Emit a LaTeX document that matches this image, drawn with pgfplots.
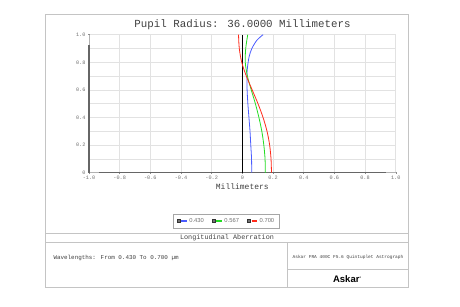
\documentclass[border=0pt]{standalone}
\usepackage{pgfplots}
\pgfplotsset{compat=1.18}
\usepackage{fontspec}
\setmainfont{Liberation Mono}
\newfontfamily\arialfont{Liberation Sans}
\definecolor{framegray}{HTML}{C4C4C4}
\definecolor{gridgray}{HTML}{E2E2E2}
\definecolor{labgray}{HTML}{707070}
\definecolor{zblue}{HTML}{4A5CFF}
\definecolor{zgreen}{HTML}{22DD22}
\definecolor{zred}{HTML}{FF2A1A}
\begin{document}
\begin{tikzpicture}[x=1pt,y=1pt]
\path[use as bounding box,fill=white] (0,0) rectangle (460,307);
% frame
\draw[framegray,line width=0.9pt] (45,19.3) rectangle (408,292.3);
\draw[framegray,line width=0.9pt] (45,73.3) -- (408,73.3);
\draw[framegray,line width=0.9pt] (45,64.7) -- (408,64.7);
\draw[framegray,line width=0.9pt] (287,19.3) -- (287,64.7);
\draw[framegray,line width=0.9pt] (287,37.3) -- (408,37.3);
% texts
\node[text=black!75,font=\fontsize{10.8}{12}\selectfont] at (242.5,282.7) {Pupil Radius: 36.0000 Millimeters};
\node[text=black!75,font=\fontsize{6.8}{8}\selectfont] at (227,69) {Longitudinal Aberration};
\node[anchor=west,text=black!75,font=\fontsize{5.9}{7}\selectfont] at (50,48.7) {Wavelengths: From 0.430 To 0.700 µm};
\node[text=black!75,font=\fontsize{4.5}{5}\selectfont] at (348,50) {Askar FRA 400C F5.6 Quintuplet Astrograph};
\node[text=black,font=\arialfont\bfseries\fontsize{9.5}{11}\selectfont] at (347,27.7) {Askar\raisebox{2.5pt}{\fontsize{5}{5}\selectfont ʼ}};
\begin{axis}[
  at={(89pt,134.3pt)}, anchor=south west,
  scale only axis, width=306.7pt, height=138pt,
  xmin=-1, xmax=1, ymin=0, ymax=1,
  axis lines=left, axis line style={black!30,line width=0.6pt,-},
  xtick={-1,-0.8,-0.6,-0.4,-0.2,0,0.2,0.4,0.6,0.8,1},
  xticklabels={-1.0,-0.8,-0.6,-0.4,-0.2,0,0.2,0.4,0.6,0.8,1.0},
  ytick={0,0.2,0.4,0.6,0.8,1},
  yticklabels={0,0.2,0.4,0.6,0.8,1.0},
  minor ytick={0.1,0.3,0.5,0.7,0.9},
  grid=both, major grid style={gridgray,line width=0.5pt}, minor grid style={gridgray,line width=0.5pt},
  tick style={black!45,line width=0.4pt}, major tick length=2pt, minor tick length=1.5pt,
  tick label style={text=labgray,font=\fontsize{5.2}{6}\selectfont},
  xticklabel style={yshift=1pt},
  yticklabel style={xshift=1pt},
  xlabel={Millimeters}, xlabel style={text=black!75,font=\fontsize{8}{9}\selectfont, yshift=3pt},
  legend columns=3,
  legend style={at={(axis description cs:0.448,-0.35)},anchor=center,draw=black!35,line width=0.5pt,
     font=\arialfont\fontsize{5.8}{6.5}\selectfont,text=labgray,inner xsep=3pt,inner ysep=2pt,
     /tikz/every even column/.append style={column sep=6pt}},
  legend image code/.code={
     \draw[fill=black!55,draw=black!80,line width=0.3pt] (0pt,-1.6pt) rectangle (3.2pt,1.6pt);
     \draw[#1,line width=1.1pt] (4.4pt,0pt) -- (10pt,0pt);},
  clip=false,
]
\draw[black!60,line width=1.3pt] (axis cs:-1,0) -- (axis cs:-1,0.925);
\draw[black!60,line width=1.3pt] (axis cs:-0.935,0) -- (axis cs:0.935,0);
\draw[black,line width=0.6pt] (axis cs:0,0) -- (axis cs:0,1);
\addplot[zblue,line width=0.8pt,smooth] coordinates {(0.061,0) (0.060,0.1) (0.055,0.2) (0.050,0.3) (0.043,0.4) (0.036,0.5) (0.031,0.6) (0.030,0.7) (0.033,0.76) (0.044,0.84) (0.062,0.9) (0.095,0.96) (0.135,1.0)};
\addplot[zgreen,line width=0.8pt,smooth] coordinates {(0.150,0) (0.148,0.1) (0.140,0.2) (0.127,0.3) (0.108,0.4) (0.085,0.5) (0.058,0.6) (0.033,0.7) (0.019,0.8) (0.022,0.9) (0.035,1.0)};
\addplot[zred,line width=0.8pt,smooth] coordinates {(0.190,0) (0.187,0.1) (0.178,0.2) (0.161,0.3) (0.135,0.4) (0.102,0.5) (0.064,0.6) (0.026,0.7) (-0.004,0.8) (-0.020,0.9) (-0.025,1.0)};
\legend{0.430,0.567,0.700}
\end{axis}
\end{tikzpicture}
\end{document}
